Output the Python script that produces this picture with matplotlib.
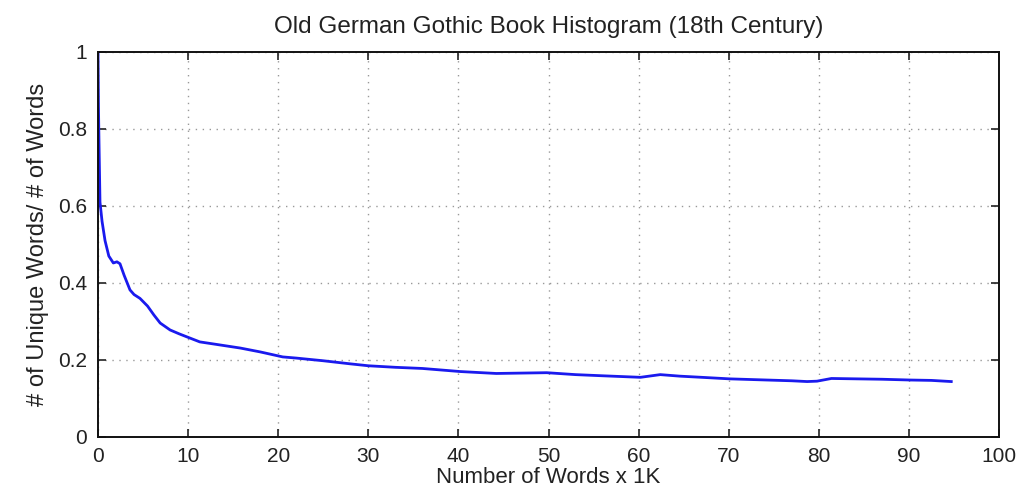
import matplotlib
matplotlib.use("Agg")
import matplotlib.pyplot as plt
from matplotlib.ticker import FixedLocator

plt.rcParams['font.family'] = ['Liberation Sans', 'DejaVu Sans']

words_k = [0.0, 0.05, 0.1, 0.22, 0.45, 0.78, 1.2, 1.7, 2.1, 2.44, 2.9, 3.55, 4.0, 4.66,
           5.5, 6.2, 6.9, 8.0, 9.0, 10.2, 11.3, 13.0, 15.8, 18.0, 20.5, 22.0, 25.0,
           28.0, 30.0, 33.0, 36.0, 40.2, 44.2, 47.0, 49.8, 53.0, 56.0, 60.2, 62.4,
           64.6, 67.0, 70.1, 74.2, 77.0, 78.7, 79.8, 81.4, 84.2, 87.0, 90.1, 92.5, 94.7]
ratio = [1.0, 0.86, 0.78, 0.61, 0.56, 0.51, 0.47, 0.452, 0.455, 0.45, 0.42, 0.382, 0.37, 0.36,
         0.34, 0.317, 0.296, 0.278, 0.268, 0.257, 0.247, 0.241, 0.231, 0.221, 0.208, 0.205, 0.198,
         0.19, 0.185, 0.181, 0.178, 0.170, 0.165, 0.166, 0.167, 0.162, 0.159, 0.155, 0.162,
         0.158, 0.155, 0.151, 0.148, 0.146, 0.144, 0.145, 0.152, 0.151, 0.150, 0.148, 0.147, 0.144]

x_ticks = [0, 10, 20, 30, 40, 50, 60, 70, 80, 90, 100]
y_ticks = [0, 0.2, 0.4, 0.6, 0.8, 1]
y_tick_labels = ["0", "0.2", "0.4", "0.6", "0.8", "1"]

fig = plt.figure(figsize=(10.36, 4.98), dpi=100)
ax = fig.add_axes([0.0946, 0.1225, 0.8697, 0.7731])
ax.plot(words_k, ratio, color='#1a1aee', linewidth=2.0)
ax.set_xlim(0, 100)
ax.set_ylim(0, 1)
ax.xaxis.set_major_locator(FixedLocator(x_ticks))
ax.yaxis.set_major_locator(FixedLocator(y_ticks))
ax.set_yticklabels(y_tick_labels)
ax.grid(True, linestyle=(0, (1, 4)), color='#999999', linewidth=1.0)
ax.tick_params(direction='in', top=True, right=True, length=6, width=1.2,
               labelsize=15, colors='#222222')
ax.tick_params(axis='x', pad=7)
ax.tick_params(axis='y', pad=8)
for s in ax.spines.values():
    s.set_linewidth(1.4)
    s.set_color('#111111')
ax.set_title("Old German Gothic Book Histogram (18th Century)", fontsize=17.5, pad=14, color='#222222')
ax.set_xlabel("Number of Words x 1K", fontsize=16, labelpad=1, color='#222222')
ax.set_ylabel("# of Unique Words/ # of Words", fontsize=17, labelpad=6, color='#222222')
fig.savefig("out.png", dpi=100)
